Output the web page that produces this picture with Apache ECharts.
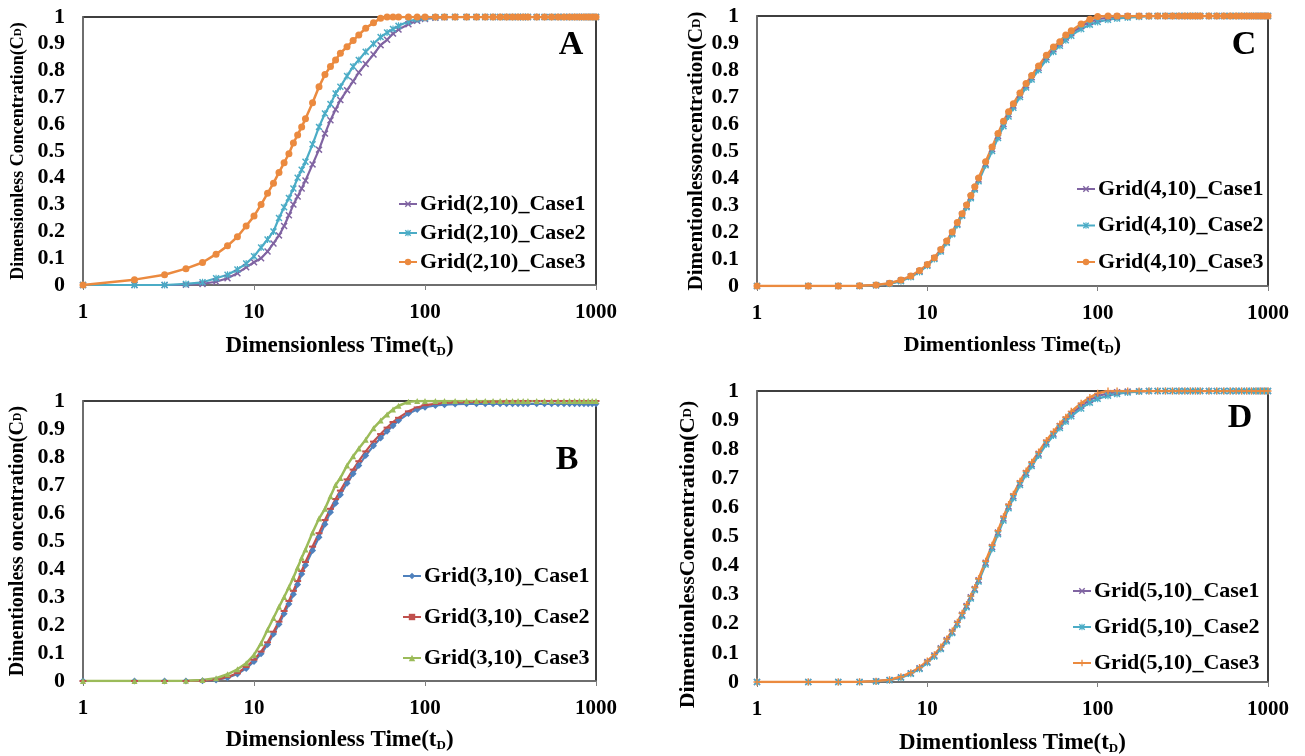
<!DOCTYPE html>
<html>
<head>
<meta charset="utf-8">
<script src="https://cdn.jsdelivr.net/npm/echarts@6/dist/echarts.min.js"></script>
<style>html,body{margin:0;padding:0;background:#fff}#c{width:1305px;height:756px}</style>
</head>
<body>
<div id="c"></div>
<script>
// Dimensionless time samples (shared x values for every series)
const T = [1,2,3,4,5,6,7,8,9,10,11,12,13,14,15,16,17,18,19,20,
  22,24,26,28,30,32,35,38,41,45,50,55,60,65,70,80,90,100,115,130,150,175,200,
  225,250,275,300,325,350,375,400,450,500,550,600,650,700,750,800,850,900,950,1000];

// Panel A : Grid(2,10)
const A_case1 = [0,0,0,0.001,0.004,0.012,0.025,0.044,0.066,0.085,0.1,0.125,0.155,0.185,0.22,0.26,0.3,0.33,0.36,0.39,
  0.45,0.505,0.565,0.615,0.655,0.69,0.727,0.76,0.793,0.825,0.86,0.895,0.915,0.938,0.953,0.973,0.986,0.993,0.997,0.999,1,1,1,
  1,1,1,1,1,1,1,1,1,1,1,1,1,1,1,1,1,1,1,1];
const A_case2 = [0,0,0,0.004,0.01,0.025,0.038,0.058,0.08,0.107,0.14,0.17,0.2,0.25,0.29,0.325,0.36,0.4,0.43,0.46,
  0.525,0.59,0.64,0.675,0.715,0.74,0.78,0.815,0.84,0.87,0.9,0.925,0.942,0.955,0.967,0.983,0.992,0.996,0.999,1,1,1,1,
  1,1,1,1,1,1,1,1,1,1,1,1,1,1,1,1,1,1,1,1];
const A_case3 = [0,0.02,0.038,0.061,0.084,0.115,0.146,0.18,0.22,0.257,0.3,0.342,0.38,0.42,0.456,0.49,0.53,0.56,0.59,0.62,
  0.68,0.74,0.785,0.815,0.84,0.865,0.889,0.912,0.933,0.958,0.979,0.995,1,1,1,1,1,1,1,1,1,1,1,
  1,1,1,1,1,1,1,1,1,1,1,1,1,1,1,1,1,1,1,1];

// Panel B : Grid(3,10)
const B_case1 = [0,0,0,0,0.001,0.004,0.012,0.025,0.045,0.07,0.097,0.13,0.168,0.203,0.24,0.275,0.31,0.345,0.382,0.413,
  0.466,0.513,0.56,0.603,0.635,0.665,0.706,0.74,0.77,0.805,0.84,0.868,0.892,0.912,0.93,0.955,0.97,0.978,0.984,0.987,0.989,0.99,0.99,
  0.99,0.99,0.99,0.99,0.99,0.99,0.99,0.99,0.99,0.99,0.99,0.99,0.99,0.99,0.99,0.99,0.99,0.99,0.99,0.99];
const B_case2 = [0,0,0,0,0.001,0.005,0.014,0.028,0.05,0.076,0.105,0.138,0.176,0.212,0.25,0.286,0.322,0.357,0.393,0.425,
  0.48,0.528,0.575,0.615,0.65,0.68,0.72,0.755,0.785,0.82,0.855,0.882,0.905,0.925,0.94,0.963,0.977,0.985,0.99,0.993,0.995,0.996,0.997,
  0.997,0.998,0.998,0.999,0.999,0.999,1,1,1,1,1,1,1,1,1,1,1,1,1,1];
const B_case3 = [0,0,0,0.001,0.004,0.01,0.024,0.042,0.063,0.093,0.135,0.183,0.225,0.265,0.3,0.335,0.37,0.405,0.44,0.47,
  0.53,0.58,0.615,0.66,0.7,0.725,0.77,0.803,0.83,0.862,0.903,0.93,0.952,0.97,0.983,0.997,1,1,1,1,1,1,1,
  1,1,1,1,1,1,1,1,1,1,1,1,1,1,1,1,1,1,1,1];

// Panel C : Grid(4,10)
const C_case1 = [0,0,0,0,0.003,0.009,0.02,0.035,0.055,0.078,0.103,0.132,0.163,0.196,0.23,0.264,0.296,0.33,0.362,0.394,
  0.453,0.507,0.556,0.6,0.636,0.668,0.708,0.743,0.773,0.808,0.847,0.877,0.898,0.92,0.936,0.962,0.978,0.988,0.994,0.997,0.999,1,1,
  1,1,1,1,1,1,1,1,1,1,1,1,1,1,1,1,1,1,1,1];
const C_case2 = [0,0,0,0,0.003,0.008,0.018,0.033,0.052,0.075,0.1,0.128,0.16,0.192,0.226,0.26,0.292,0.325,0.357,0.388,
  0.447,0.5,0.548,0.592,0.628,0.66,0.7,0.735,0.765,0.8,0.838,0.868,0.89,0.91,0.927,0.952,0.968,0.978,0.986,0.991,0.994,0.997,0.999,
  1,1,1,1,1,1,1,1,1,1,1,1,1,1,1,1,1,1,1,1];
const C_case3 = [0,0,0,0.001,0.004,0.01,0.022,0.037,0.057,0.08,0.105,0.135,0.167,0.2,0.235,0.268,0.3,0.335,0.368,0.4,
  0.46,0.515,0.565,0.61,0.645,0.675,0.715,0.75,0.78,0.815,0.855,0.885,0.905,0.93,0.945,0.97,0.988,0.998,1,1,1,1,1,
  1,1,1,1,1,1,1,1,1,1,1,1,1,1,1,1,1,1,1,1];

// Panel D : Grid(5,10)
const D_case1 = [0,0,0,0,0.003,0.007,0.016,0.03,0.047,0.069,0.091,0.116,0.144,0.172,0.201,0.231,0.261,0.291,0.32,0.35,
  0.41,0.464,0.514,0.562,0.603,0.638,0.683,0.718,0.748,0.784,0.823,0.853,0.88,0.902,0.921,0.949,0.969,0.983,0.992,0.996,0.998,0.999,1,
  1,1,1,1,1,1,1,1,1,1,1,1,1,1,1,1,1,1,1,1];
const D_case2 = [0,0,0,0,0.002,0.006,0.015,0.028,0.045,0.066,0.088,0.113,0.14,0.168,0.197,0.227,0.257,0.287,0.316,0.345,
  0.404,0.458,0.508,0.555,0.597,0.632,0.677,0.712,0.742,0.778,0.817,0.847,0.873,0.895,0.913,0.94,0.96,0.973,0.984,0.99,0.995,0.998,1,
  1,1,1,1,1,1,1,1,1,1,1,1,1,1,1,1,1,1,1,1];
const D_case3 = [0,0,0,0.001,0.003,0.008,0.018,0.032,0.05,0.072,0.094,0.12,0.148,0.175,0.205,0.236,0.266,0.295,0.325,0.355,
  0.415,0.47,0.52,0.568,0.61,0.645,0.69,0.725,0.755,0.79,0.83,0.86,0.887,0.91,0.93,0.958,0.978,0.992,1,1,1,1,1,
  1,1,1,1,1,1,1,1,1,1,1,1,1,1,1,1,1,1,1,1];

const X_TICKS = ['1','10','100','1000'];
const NAMES_A = ['Grid(2,10)_Case1','Grid(2,10)_Case2','Grid(2,10)_Case3'];
const NAMES_B = ['Grid(3,10)_Case1','Grid(3,10)_Case2','Grid(3,10)_Case3'];
const NAMES_C = ['Grid(4,10)_Case1','Grid(4,10)_Case2','Grid(4,10)_Case3'];
const NAMES_D = ['Grid(5,10)_Case1','Grid(5,10)_Case2','Grid(5,10)_Case3'];
const LETTERS = ['A','B','C','D'];
const Y_TITLES = ['Dimensionless Concentration(C{s|D})','Dimentionless oncentration(C{s|D})',
                  'Dimentionlessoncentration(C{s|D})','DimentionlessConcentration(C{s|D})'];
const X_TITLES = ['Dimensionless Time(t{s|D})','Dimensionless Time(t{s|D})',
                  'Dimentionless Time(t{s|D})','Dimentionless Time(t{s|D})'];

const FONT = '"Liberation Serif","Times New Roman",serif';
const PURPLE='#8064A2', TEAL='#4BACC6', ORANGE='#EB8A3F', BLUE='#4F81BD', RED='#C0504D', GREEN='#9BBB59';
const X_SYM = 'path://M0,1.5L1.5,0L5,3.5L8.5,0L10,1.5L6.5,5L10,8.5L8.5,10L5,6.5L1.5,10L0,8.5L3.5,5Z';
const STAR_SYM = 'path://M0,1.5L1.5,0L5,3.5L8.5,0L10,1.5L6.5,5L10,8.5L8.5,10L5,6.5L1.5,10L0,8.5L3.5,5Z M4.2,0L5.8,0L5.8,10L4.2,10Z';
const PLUS_SYM = 'path://M4,0L6,0L6,4L10,4L10,6L6,6L6,10L4,10L4,6L0,6L0,4L4,4Z';

const grids = [
  {left:83, top:17, width:513, height:268},
  {left:83, top:401, width:513, height:280},
  {left:757, top:16, width:511, height:270},
  {left:757, top:391, width:511, height:294}
];
const yNameFont = [18,20,21,22];
const yNameGap = [56,55,50,58];
const yNamePad = [[0,0,0,0],[0,0,0,0],[0,0,0,0],[0,36,0,0]];
const xNameFont = [23,23,22,23];
const xNameGap = [50,48,48,50];

function pts(vals){ return T.map((t,i)=>[t, vals[i]]); }
function mk(name, vals, color, symbol, size, gi, lw){
  return {
    name, type:'line', xAxisIndex:gi, yAxisIndex:gi,
    data: pts(vals), symbol, symbolSize:size, showAllSymbol:true,
    lineStyle:{color, width:lw||2.2}, itemStyle:{color},
    animation:false, silent:true
  };
}

const series = [
  mk(NAMES_A[0], A_case1, PURPLE, X_SYM, 7, 0),
  mk(NAMES_A[1], A_case2, TEAL, STAR_SYM, 7, 0),
  mk(NAMES_A[2], A_case3, ORANGE, 'circle', 7, 0, 2.5),
  mk(NAMES_B[0], B_case1, BLUE, 'diamond', 7, 1),
  mk(NAMES_B[1], B_case2, RED, 'rect', [7,2], 1),
  mk(NAMES_B[2], B_case3, GREEN, 'triangle', 6, 1, 2.5),
  mk(NAMES_C[0], C_case1, PURPLE, X_SYM, 7, 2),
  mk(NAMES_C[1], C_case2, TEAL, STAR_SYM, 7, 2),
  mk(NAMES_C[2], C_case3, ORANGE, 'circle', 7, 2, 2.5),
  mk(NAMES_D[0], D_case1, PURPLE, X_SYM, 7, 3),
  mk(NAMES_D[1], D_case2, TEAL, STAR_SYM, 7, 3),
  mk(NAMES_D[2], D_case3, ORANGE, PLUS_SYM, 7, 3, 2.5)
];

const xAxis = grids.map((g,i)=>({
  gridIndex:i, type:'log', logBase:10, min:1, max:1000, splitNumber:3,
  name:X_TITLES[i], nameLocation:'middle', nameGap:xNameGap[i],
  nameTextStyle:{fontFamily:FONT, fontWeight:'bold', fontSize:xNameFont[i], color:'#000',
    rich:{s:{fontFamily:FONT, fontWeight:'bold', fontSize:13, color:'#000', verticalAlign:'bottom', padding:[6,0,0,0]}}},
  axisLine:{show:true, onZero:false, lineStyle:{color:'#7f7f7f', width:1.5}},
  axisTick:{show:true, length:5, lineStyle:{color:'#7f7f7f'}},
  axisLabel:{fontFamily:FONT, fontWeight:'bold', fontSize:21, color:'#000', margin:17,
    formatter:(v)=>{ const s=String(Math.round(v)); return X_TICKS.indexOf(s)>=0 ? s : ''; }},
  splitLine:{show:false}, minorTick:{show:false}
}));
const yAxis = grids.map((g,i)=>({
  gridIndex:i, type:'value', min:0, max:1, interval:0.1,
  name:Y_TITLES[i], nameLocation:'middle', nameGap:yNameGap[i], nameRotate:90,
  nameTextStyle:{fontFamily:FONT, fontWeight:'bold', fontSize:yNameFont[i], color:'#000', padding:yNamePad[i],
    rich:{s:{fontFamily:FONT, fontWeight:'bold', fontSize:Math.round(yNameFont[i]*0.6), color:'#000'}}},
  axisLine:{show:true, lineStyle:{color:'#7f7f7f', width:1.5}},
  axisTick:{show:false},
  axisLabel:{fontFamily:FONT, fontWeight:'bold', fontSize:22, color:'#000', margin:18,
    padding:[4,0,0,0],
    formatter:(v)=>String(Math.round(v*10)/10)},
  splitLine:{show:false}
}));

const legendPos = [
  {left:398, top:193, gap:7},
  {left:402, top:565, gap:19},
  {left:1076, top:178, gap:14.5},
  {left:1072, top:580, gap:14}
];
const legendNames = [NAMES_A, NAMES_B, NAMES_C, NAMES_D];
const legend = legendPos.map((p,i)=>({
  data:legendNames[i], orient:'vertical', left:p.left, top:p.top, itemGap:p.gap,
  padding:0, itemWidth:18, itemHeight:8, selectedMode:false,
  textStyle:{fontFamily:FONT, fontWeight:'bold', fontSize:22, color:'#000', lineHeight:22, padding:[0,0,0,-2]}
}));

const letterPos = [[571,45],[567,460],[1244,45],[1240,418]];
const graphic = letterPos.map((p,i)=>({
  type:'text', x:p[0], y:p[1], silent:true,
  style:{text:LETTERS[i], fontFamily:FONT, fontWeight:'bold', fontSize:34, fill:'#000', align:'center', verticalAlign:'middle'}
}));

const chart = echarts.init(document.getElementById('c'), null, {renderer:'canvas'});
chart.setOption({
  animation:false,
  backgroundColor:'#fff',
  grid: grids.map(g=>Object.assign({show:true, borderColor:'#000', borderWidth:1.5, backgroundColor:'transparent'}, g)),
  xAxis, yAxis, legend, graphic, series
});
</script>
</body>
</html>
